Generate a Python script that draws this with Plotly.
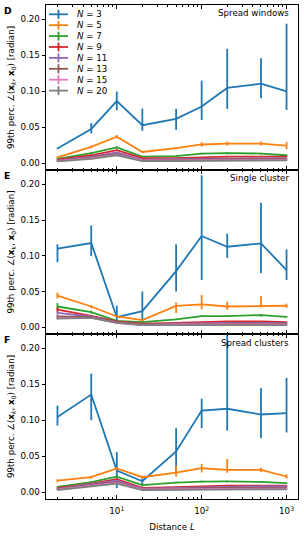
import plotly.graph_objects as go
from plotly.subplots import make_subplots

# ---------------- data ----------------
distances = [2, 5, 10, 20, 50, 100, 200, 500, 1000]
n_labels = ["3", "5", "7", "9", "11", "13", "15", "20"]
colors = ["#1f77b4", "#ff7f0e", "#2ca02c", "#d62728",
          "#9467bd", "#8c564b", "#e377c2", "#7f7f7f"]
panel_titles = ["Spread windows", "Single cluster", "Spread clusters"]
panel_letters = ["D", "E", "F"]
y_ticks = [0.0, 0.05, 0.10, 0.15, 0.20]
x_major = [10, 100, 1000]
x_major_text = ["10<sup>1</sup>", "10<sup>2</sup>", "10<sup>3</sup>"]
x_minor = [2, 3, 4, 5, 6, 7, 8, 9, 20, 30, 40, 50, 60, 70, 80, 90,
           200, 300, 400, 500, 600, 700, 800, 900]

# Panel D: spread windows  (value, upper end, lower end)
D_vals = [
    [0.0203, 0.0476, 0.0863, 0.0528, 0.0616, 0.0787, 0.1046, 0.1106, 0.100],
    [0.008, 0.0226, 0.0368, 0.0156, 0.0208, 0.026, 0.0273, 0.0273, 0.0245],
    [0.006, 0.014, 0.022, 0.009, 0.0097, 0.0134, 0.014, 0.0134, 0.011],
    [0.005, 0.011, 0.018, 0.007, 0.007, 0.008, 0.009, 0.009, 0.009],
    [0.004, 0.009, 0.015, 0.005, 0.006, 0.006, 0.007, 0.007, 0.007],
    [0.0035, 0.008, 0.013, 0.004, 0.005, 0.005, 0.006, 0.006, 0.006],
    [0.003, 0.007, 0.012, 0.004, 0.004, 0.004, 0.005, 0.005, 0.005],
    [0.0025, 0.006, 0.011, 0.003, 0.003, 0.003, 0.004, 0.004, 0.004],
]
D_hi = [
    [0.021, 0.0557, 0.0995, 0.076, 0.0755, 0.1148, 0.159, 0.1458, 0.194],
    [0.009, 0.0245, 0.039, 0.017, 0.0225, 0.029, 0.030, 0.030, 0.0295],
    [0.0068, 0.015, 0.0235, 0.0098, 0.0105, 0.0145, 0.0152, 0.0145, 0.012],
    [0.0055, 0.012, 0.019, 0.0075, 0.0076, 0.0087, 0.0097, 0.0097, 0.0097],
    [0.0045, 0.0097, 0.016, 0.0055, 0.0065, 0.0065, 0.0075, 0.0075, 0.0075],
    [0.004, 0.0085, 0.0138, 0.0045, 0.0055, 0.0055, 0.0065, 0.0065, 0.0065],
    [0.0035, 0.0075, 0.0128, 0.0045, 0.0045, 0.0045, 0.0055, 0.0055, 0.0055],
    [0.003, 0.0065, 0.0118, 0.0035, 0.0035, 0.0035, 0.0045, 0.0045, 0.0045],
]
D_lo = [
    [0.0195, 0.0415, 0.0736, 0.045, 0.0463, 0.060, 0.0755, 0.0903, 0.074],
    [0.007, 0.0207, 0.0346, 0.0142, 0.0191, 0.023, 0.0246, 0.0246, 0.0195],
    [0.0052, 0.013, 0.0205, 0.0082, 0.0089, 0.0123, 0.0128, 0.0123, 0.010],
    [0.0045, 0.010, 0.017, 0.0065, 0.0064, 0.0073, 0.0083, 0.0083, 0.0083],
    [0.0035, 0.0083, 0.014, 0.0045, 0.0055, 0.0055, 0.0065, 0.0065, 0.0065],
    [0.003, 0.0075, 0.0122, 0.0035, 0.0045, 0.0045, 0.0055, 0.0055, 0.0055],
    [0.0025, 0.0065, 0.0112, 0.0035, 0.0035, 0.0035, 0.0045, 0.0045, 0.0045],
    [0.002, 0.0055, 0.0102, 0.0025, 0.0025, 0.0025, 0.0035, 0.0035, 0.0035],
]

# Panel E: single cluster
E_vals = [
    [0.110, 0.1178, 0.014, 0.0224, 0.0785, 0.1276, 0.1126, 0.1173, 0.080],
    [0.0443, 0.029, 0.015, 0.0099, 0.0299, 0.032, 0.029, 0.029, 0.030],
    [0.029, 0.021, 0.009, 0.007, 0.011, 0.0155, 0.0155, 0.017, 0.0146],
    [0.0245, 0.016, 0.008, 0.005, 0.006, 0.007, 0.008, 0.008, 0.007],
    [0.020, 0.015, 0.007, 0.004, 0.005, 0.006, 0.006, 0.006, 0.006],
    [0.015, 0.014, 0.007, 0.004, 0.004, 0.005, 0.005, 0.005, 0.005],
    [0.013, 0.013, 0.006, 0.003, 0.004, 0.004, 0.004, 0.004, 0.004],
    [0.012, 0.013, 0.006, 0.003, 0.003, 0.003, 0.003, 0.003, 0.003],
]
E_hi = [
    [0.116, 0.1425, 0.030, 0.050, 0.116, 0.2126, 0.131, 0.174, 0.109],
    [0.0483, 0.031, 0.016, 0.011, 0.0345, 0.045, 0.0355, 0.0438, 0.033],
    [0.0337, 0.023, 0.010, 0.008, 0.012, 0.0167, 0.0167, 0.0185, 0.0158],
    [0.0275, 0.0172, 0.0088, 0.0058, 0.0068, 0.0078, 0.0088, 0.0088, 0.0078],
    [0.0225, 0.016, 0.0077, 0.0047, 0.0057, 0.0067, 0.0067, 0.0067, 0.0067],
    [0.017, 0.015, 0.0077, 0.0047, 0.0047, 0.0057, 0.0057, 0.0057, 0.0057],
    [0.0145, 0.014, 0.0067, 0.0037, 0.0047, 0.0047, 0.0047, 0.0047, 0.0047],
    [0.0132, 0.014, 0.0067, 0.0037, 0.0037, 0.0037, 0.0037, 0.0037, 0.0037],
]
E_lo = [
    [0.091, 0.0995, 0.0084, 0.004, 0.050, 0.066, 0.097, 0.076, 0.066],
    [0.0403, 0.027, 0.014, 0.0088, 0.0199, 0.025, 0.0244, 0.028, 0.027],
    [0.0243, 0.019, 0.008, 0.006, 0.010, 0.0143, 0.0143, 0.0155, 0.0134],
    [0.0215, 0.0148, 0.0072, 0.0042, 0.0052, 0.0062, 0.0072, 0.0072, 0.0062],
    [0.0175, 0.014, 0.0063, 0.0033, 0.0043, 0.0053, 0.0053, 0.0053, 0.0053],
    [0.013, 0.013, 0.0063, 0.0033, 0.0033, 0.0043, 0.0043, 0.0043, 0.0043],
    [0.0115, 0.012, 0.0053, 0.0023, 0.0033, 0.0033, 0.0033, 0.0033, 0.0033],
    [0.0108, 0.012, 0.0053, 0.0023, 0.0023, 0.0023, 0.0023, 0.0023, 0.0023],
]

# Panel F: spread clusters
F_vals = [
    [0.1047, 0.1358, 0.030, 0.0152, 0.0567, 0.1135, 0.116, 0.108, 0.110],
    [0.016, 0.0208, 0.033, 0.0208, 0.0273, 0.0333, 0.031, 0.031, 0.0218],
    [0.0075, 0.014, 0.0217, 0.0099, 0.0134, 0.0148, 0.015, 0.0143, 0.0125],
    [0.006, 0.012, 0.018, 0.006, 0.007, 0.008, 0.009, 0.009, 0.009],
    [0.005, 0.011, 0.016, 0.005, 0.006, 0.007, 0.008, 0.008, 0.008],
    [0.0045, 0.010, 0.014, 0.004, 0.005, 0.006, 0.006, 0.006, 0.006],
    [0.004, 0.009, 0.013, 0.004, 0.004, 0.005, 0.005, 0.005, 0.005],
    [0.003, 0.008, 0.012, 0.003, 0.003, 0.004, 0.004, 0.004, 0.004],
]
F_hi = [
    [0.1205, 0.165, 0.0558, 0.0195, 0.089, 0.130, 0.250, 0.145, 0.159],
    [0.018, 0.0228, 0.035, 0.0228, 0.0366, 0.0393, 0.046, 0.034, 0.0248],
    [0.0083, 0.015, 0.0229, 0.0108, 0.0145, 0.016, 0.0162, 0.0155, 0.0135],
    [0.0066, 0.0128, 0.0188, 0.0066, 0.0077, 0.0087, 0.0097, 0.0097, 0.0097],
    [0.0056, 0.0118, 0.0168, 0.0056, 0.0067, 0.0077, 0.0087, 0.0087, 0.0087],
    [0.005, 0.0108, 0.0148, 0.0046, 0.0057, 0.0067, 0.0067, 0.0067, 0.0067],
    [0.0045, 0.0098, 0.0138, 0.0046, 0.0046, 0.0057, 0.0057, 0.0057, 0.0057],
    [0.0035, 0.0088, 0.0128, 0.0036, 0.0036, 0.0046, 0.0046, 0.0046, 0.0046],
]
F_lo = [
    [0.0926, 0.100, 0.0056, 0.0079, 0.027, 0.089, 0.0856, 0.075, 0.083],
    [0.014, 0.0188, 0.031, 0.0188, 0.0218, 0.0273, 0.027, 0.028, 0.0188],
    [0.0067, 0.013, 0.0205, 0.009, 0.0123, 0.0136, 0.0138, 0.0131, 0.0115],
    [0.0054, 0.0112, 0.0172, 0.0054, 0.0063, 0.0073, 0.0083, 0.0083, 0.0083],
    [0.0044, 0.0102, 0.0152, 0.0044, 0.0053, 0.0063, 0.0073, 0.0073, 0.0073],
    [0.004, 0.0092, 0.0132, 0.0034, 0.0043, 0.0053, 0.0053, 0.0053, 0.0053],
    [0.0035, 0.0082, 0.0122, 0.0034, 0.0034, 0.0043, 0.0043, 0.0043, 0.0043],
    [0.0025, 0.0072, 0.0112, 0.0024, 0.0024, 0.0034, 0.0034, 0.0034, 0.0034],
]

panels = [(D_vals, D_hi, D_lo), (E_vals, E_hi, E_lo), (F_vals, F_hi, F_lo)]

# ---------------- layout geometry ----------------
W, H = 304, 540
ML, MR, MT, MB = 46, 6, 5, 41
PW, PH = W - ML - MR, H - MT - MB
FONT = "DejaVu Sans"
FS = 8.7


def px_x(px):
    return (px - ML) / PW


def px_y(py):
    return (H - MB - py) / PH


fig = make_subplots(rows=3, cols=1, shared_xaxes=True, vertical_spacing=0)

for r, (vals, hi, lo) in enumerate(panels, start=1):
    for i in range(len(n_labels)):
        plus = [h - v for h, v in zip(hi[i], vals[i])]
        minus = [v - l for v, l in zip(vals[i], lo[i])]
        fig.add_trace(go.Scatter(
            x=distances, y=vals[i], mode="lines",
            line=dict(color=colors[i], width=1.8),
            error_y=dict(type="data", symmetric=False, array=plus,
                         arrayminus=minus, width=0, thickness=1.8,
                         color=colors[i]),
            showlegend=False, name="N = " + n_labels[i]),
            row=r, col=1)

# domains: three stacked panels touching each other
bounds = [(5, 170), (170, 334), (334, 499)]
for r, (top, bot) in enumerate(bounds, start=1):
    ya = "yaxis" if r == 1 else f"yaxis{r}"
    fig.layout[ya].domain = [px_y(bot), px_y(top)]
    fig.update_xaxes(
        type="log", range=[0.166, 3.135], automargin=False,
        tickvals=x_major, ticktext=x_major_text,
        ticks="inside", ticklen=4, tickwidth=1, tickcolor="black",
        minor=dict(tickvals=x_minor, ticks="inside", ticklen=2,
                   tickwidth=0.8, tickcolor="black"),
        showline=True, linecolor="black", linewidth=1, mirror="ticks",
        showgrid=False, zeroline=False,
        showticklabels=(r == 3), ticklabelstandoff=4,
        tickfont=dict(family=FONT, size=FS, color="black"),
        row=r, col=1)
    fig.update_yaxes(
        range=[-0.0095, 0.22], tickvals=y_ticks, tickformat=".2f",
        automargin=False,
        ticks="outside", ticklen=3.5, tickwidth=1, tickcolor="black",
        showline=True, linecolor="black", linewidth=1, mirror=True,
        showgrid=False, zeroline=False,
        tickfont=dict(family=FONT, size=FS, color="black"),
        title=dict(text="99th perc. ∠(<b>x</b><sub><i>k</i></sub>, "
                        "<b>x</b><sub>0</sub>) [radian]",
                   font=dict(family=FONT, size=FS, color="black"),
                   standoff=4),
        row=r, col=1)

fig.update_xaxes(title=dict(text="Distance <i>L</i>",
                            font=dict(family=FONT, size=FS, color="black"),
                            standoff=8), row=3, col=1)

annotations = []
for r, (top, bot) in enumerate(bounds):
    annotations.append(dict(
        xref="paper", yref="paper", x=px_x(290.5), y=px_y(top + 8.5),
        xanchor="right", yanchor="middle", showarrow=False,
        text=panel_titles[r],
        font=dict(family=FONT, size=FS, color="black")))
    annotations.append(dict(
        xref="paper", yref="paper", x=px_x(2), y=px_y(top + 5),
        xanchor="left", yanchor="middle", showarrow=False,
        text="<b>" + panel_letters[r] + "</b>",
        font=dict(family=FONT, size=FS + 0.5, color="black")))

# manual compact legend in panel D
shapes = []
for i, lab in enumerate(n_labels):
    yy = 14.3 + i * 10.9
    shapes.append(dict(type="line", xref="paper", yref="paper",
                       x0=px_x(49), x1=px_x(68), y0=px_y(yy), y1=px_y(yy),
                       line=dict(color=colors[i], width=1.8)))
    shapes.append(dict(type="line", xref="paper", yref="paper",
                       x0=px_x(58.5), x1=px_x(58.5),
                       y0=px_y(yy - 4.5), y1=px_y(yy + 4.5),
                       line=dict(color=colors[i], width=1.8)))
    annotations.append(dict(
        xref="paper", yref="paper", x=px_x(75), y=px_y(yy),
        xanchor="left", yanchor="middle", showarrow=False,
        text="<i>N</i> = " + lab,
        font=dict(family=FONT, size=FS, color="black")))

fig.update_layout(
    width=W, height=H,
    margin=dict(l=ML, r=MR, t=MT, b=MB),
    paper_bgcolor="white", plot_bgcolor="white",
    annotations=annotations, shapes=shapes,
    font=dict(family=FONT, size=FS, color="black"),
    showlegend=False,
)

fig.write_html("out.html",
               config={"displayModeBar": False},
               post_script="document.body.style.margin='0';"
                           "document.body.style.padding='0';")
